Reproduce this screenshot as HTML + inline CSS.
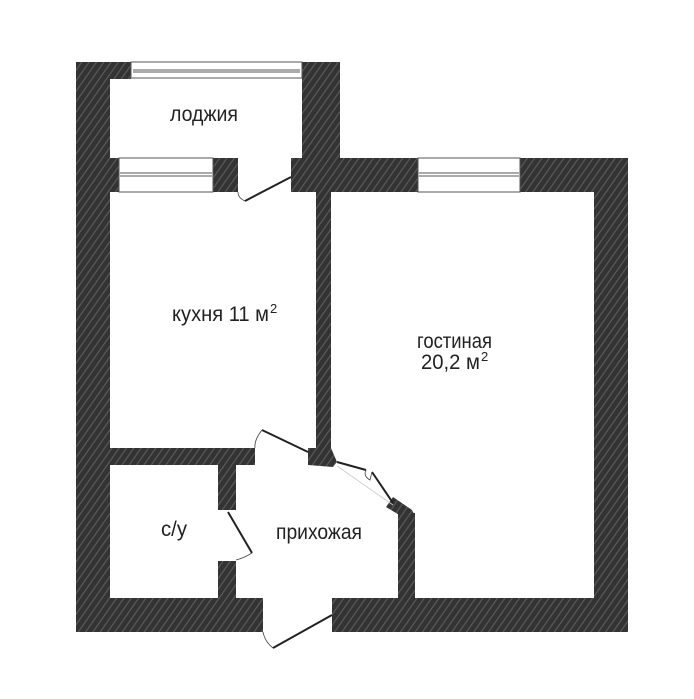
<!DOCTYPE html>
<html><head><meta charset="utf-8"><style>
html,body{margin:0;padding:0;background:#fff;}
svg{display:block;}
text{font-family:"Liberation Sans Narrow","Liberation Sans","DejaVu Sans Condensed",sans-serif;fill:#222;}
</style></head><body>
<svg width="694" height="699" viewBox="0 0 694 699" xmlns="http://www.w3.org/2000/svg">
<defs>
<pattern id="h" patternUnits="userSpaceOnUse" width="6" height="6" patternTransform="rotate(35)">
<rect width="6" height="6" fill="#333"/>
<rect width="1.2" height="6" fill="#5a5a5a"/>
</pattern>
</defs>
<g fill="url(#h)">
<rect x="76" y="62" width="55" height="17"/>
<rect x="302" y="62" width="38" height="130"/>
<rect x="76" y="62" width="34" height="570"/>
<rect x="110" y="158" width="9" height="34"/>
<rect x="213" y="158" width="25" height="34"/>
<rect x="291" y="158" width="127" height="34"/>
<rect x="520" y="158" width="108" height="34"/>
<rect x="594" y="158" width="34" height="474"/>
<rect x="316" y="192" width="15" height="260"/>
<rect x="110" y="448" width="145" height="17"/>
<rect x="218" y="465" width="18" height="45"/>
<rect x="218" y="561" width="18" height="37"/>
<rect x="76" y="598" width="187" height="34"/>
<rect x="332" y="598" width="296" height="34"/>
<rect x="398" y="513" width="17" height="85"/>
<polygon points="308,448 331,448 337,462 333,467 308,465"/>
<polygon points="393,497 412,510 415,516 401,516 386,507"/>
</g>
<g fill="#fff" stroke="#555" stroke-width="1">
<rect x="131" y="62" width="171" height="16"/>
<line x1="133" y1="70" x2="300" y2="70"/><line x1="133" y1="72" x2="300" y2="72"/>
<rect x="119" y="158" width="94" height="34"/>
<line x1="120" y1="173" x2="212" y2="173"/><line x1="120" y1="176" x2="212" y2="176"/>
<rect x="418" y="158" width="102" height="34"/>
<line x1="419" y1="173" x2="519" y2="173"/><line x1="419" y1="176" x2="519" y2="176"/>
</g>
<g stroke="#222" stroke-width="2" fill="none">
<line x1="245" y1="201" x2="291" y2="177"/>
<line x1="262" y1="430" x2="308" y2="452"/>
<line x1="337" y1="462" x2="366" y2="470"/>
<line x1="372" y1="472" x2="393" y2="503"/>
<line x1="228" y1="512" x2="252" y2="553"/>
<line x1="332" y1="615" x2="273" y2="648"/>
</g>
<g stroke="#444" stroke-width="0.8" fill="none">
<path d="M238,192 Q238,198 245,201"/>
<path d="M262,430 Q254,440 255,448"/>
<path d="M366,470 Q363,476 370,480 L372,472"/>
<path d="M252,553 Q244,558 236,560"/>
<path d="M263,632 Q265,642 273,648"/>
<line x1="337" y1="466" x2="393" y2="505" stroke="#ccc"/>
</g>
<g font-size="21">
<text x="170" y="121" textLength="68" lengthAdjust="spacingAndGlyphs">лоджия</text>
<text x="172" y="321" textLength="97" lengthAdjust="spacingAndGlyphs">кухня 11 м</text>
<text x="270" y="313" font-size="13">2</text>
<text x="417" y="348" textLength="75" lengthAdjust="spacingAndGlyphs">гостиная</text>
<text x="421" y="369" textLength="59" lengthAdjust="spacingAndGlyphs">20,2 м</text>
<text x="481" y="361" font-size="13">2</text>
<text x="161" y="536" textLength="26" lengthAdjust="spacingAndGlyphs">с/у</text>
<text x="276" y="539" textLength="86" lengthAdjust="spacingAndGlyphs">прихожая</text>
</g>
</svg>
</body></html>
